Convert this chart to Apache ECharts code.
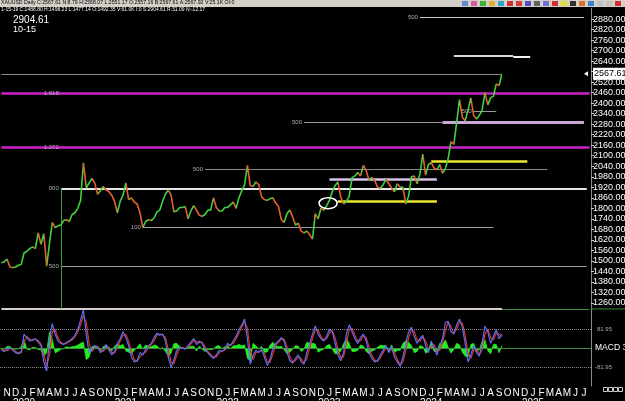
<!DOCTYPE html>
<html><head><meta charset="utf-8">
<script src="https://cdn.jsdelivr.net/npm/echarts@6/dist/echarts.min.js"></script>
<style>html,body{margin:0;padding:0;background:#000;overflow:hidden}#c{width:625px;height:401px}</style>
</head><body><div id="c"></div>
<script>
// ---------- DATA ----------
const firstDate = '2019-10-11';
const lastDate = '2025-07-21';
const monthLetters = ['J','F','M','A','M','J','J','A','S','O','N','D'];
const priceTicks = {min:1200, max:2940, step:60};
// price, one value per 10-day period starting 2019-10-11
const price = [
1490,1495,1510,1465,1462,1465,1475,1480,
1545,1555,1570,1580,1570,1660,1595,1655,1470,1600,1720,1690,1700,1705,1730,1735,1725,1765,1775,1800,1845,2060,1915,1945,1970,1945,1880,1900,1925,1905,1895,1875,1840,1775,1840,1875,
1945,1850,1860,1835,1825,1775,1690,1725,1735,1730,1745,1780,1790,1840,1880,1905,1875,1780,1785,1805,1805,1810,1740,1785,1815,1790,1760,1755,1765,1790,1790,1860,1805,1785,1785,1805,
1805,1820,1835,1800,1860,1900,1935,2045,1930,1925,1950,1935,1865,1850,1845,1855,1860,1830,1810,1735,1720,1770,1790,1750,1705,1715,1670,1660,1670,1650,1625,1770,1740,1800,1790,1815,
1845,1895,1930,1950,1865,1825,1840,1870,1975,1985,2005,1985,2045,2015,1960,1975,1960,1920,1915,1935,1965,1940,1915,1895,1940,1920,1920,1825,1870,1980,1985,1940,1995,2110,1990,2050,
2060,2030,2020,2050,2000,2025,2085,2180,2165,2290,2420,2320,2300,2360,2430,2330,2310,2330,2360,2460,2390,2430,2440,2510,2500,2567.61];
const lastPrice = 2567.61;
const macdLine = [
-10,-15,-5,5,-10,-20,-25,-15,60,45, 30,35,40,25,10,-60,-100,40,105,60, 30,20,15,25,30,40,55,80,120,165,
60,-20,-10,10,5,-20,-10,15,-5,-30, -15,20,40,70,45,10,-40,-60,-55,-20, -30,-5,10,20,45,65,55,60,30,-40,
-85,-50,-10,5,0,-5,10,25,40,15, 30,20,-10,-20,-35,-45,-30,-10,-15,-5, 20,10,30,50,80,100,125,40,-70,-30,
-10,-20,-5,-40,-75,-50,0,20,30,45, 30,-20,-55,-65,-45,-30,-60,-70,-20,20, 60,95,60,40,30,50,80,70,20,-30,
-55,-20,60,100,70,40,20,45,60,30, -20,-45,-60,-55,-30,-10,10,-20,5,-40, -60,-80,-40,20,70,90,50,20,40,55,
10,-20,30,0,-30,10,40,110,115,70, 60,100,125,90,20,-60,-30,10,-20,-35, 20,95,70,20,50,80,40,60];
const signalLine = [
-5,-10,-12,-2,-5,-15,-22,-20,25,50, 38,32,38,32,18,-25,-80,-30,70,80, 45,25,18,20,28,35,48,68,100,140,
110,20,-15,0,8,-8,-15,2,5,-18, -22,2,30,55,58,28,-15,-50,-58,-38, -25,-18,2,15,32,55,60,58,45,-5,
-62,-68,-30,-2,2,-2,2,18,32,28, 22,25,5,-15,-28,-40,-38,-20,-12,-10, 8,15,20,40,65,90,112,85,-15,-50,
-20,-15,-12,-22,-58,-62,-25,10,25,38, 38,5,-38,-60,-55,-38,-45,-65,-45,0, 40,78,78,50,35,40,65,75,45,-5,
-42,-38,20,80,85,55,30,32,52,45, 5,-32,-52,-58,-42,-20,0,-5,-8,-20, -50,-70,-60,-10,45,80,70,35,30,48,
32,-5,5,15,-15,-10,25,75,112,92, 65,80,112,108,55,-20,-45,-10,-5,-28, -8,60,82,45,35,65,60,50];
const macdHist = [
-5,-5,7,7,-5,-5,-3,5,35,-5, -8,3,2,-7,-8,-35,-20,70,35,-20, -15,-5,-3,5,2,5,7,12,20,25,
-50,-40,5,10,-3,-12,5,13,-10,-12, 7,18,10,15,-13,-18,-25,-10,3,18, -5,13,8,5,13,10,-5,2,-15,-35,
-23,18,20,7,-2,-3,8,7,8,-13, 8,-5,-15,-5,-7,-5,8,10,-3,5, 12,-5,10,10,15,10,13,-45,-55,20,
10,-5,7,-18,-17,12,25,10,5,7, -8,-25,-17,-5,10,8,-15,-5,25,20, 20,17,-18,-10,-5,10,15,-5,-25,-25,
-13,18,40,20,-15,-15,-10,13,8,-15, -25,-13,-8,3,12,10,10,-15,13,-20, -10,-10,20,30,25,10,-20,-15,10,7,
-22,-15,25,-15,-15,20,15,35,3,-22, -5,20,13,-18,-35,-40,15,20,-15,-7, 28,35,-12,-25,15,15,-20,10];
const macdBand = 81.95;
const macdTicks = {min:-164, max:164, step:82};
// drawn horizontal levels
const levelValues = [2891, 2670, 2663, 2567.61, 2456, 2292, 2290, 2148, 2067, 2024, 1966, 1913, 1838, 1691, 1468, 2355];
const levelFrom = ['2023-11-21','2024-03-21','2024-10-21','2019-10-11','2019-10-11','2022-10-01','2024-02-11','2019-10-11','2024-01-01','2021-10-11','2023-01-01','2020-05-11','2023-02-01','2021-03-01','2020-05-11','2024-06-01'];
const levelTo   = ['2025-07-01','2024-10-21','2024-12-21','2024-09-11','2025-07-21','2024-02-11','2025-07-01','2025-07-21','2024-12-11','2025-02-21','2024-01-21','2025-07-11','2024-01-21','2024-08-11','2025-07-11','2024-08-21'];
const levelTags = ['500','','','','1.618','500','','1.272','','500','','000','','100','500','500'];
const tagDates  = ['2023-11-21','','','','2020-05-11','2022-10-01','','2020-05-11','','2021-10-11','','2020-05-11','','2021-03-01','2020-05-11','2024-06-01'];
const circleAt = ['2022-12-21', 1835];
const pivotDate = '2020-05-11';
const paneFloor = 1226;
const headerTop = 'XAUUSD Daily C:2567.61 N:8.79 H:2568.07 L:2551.17 O:2557.16 B:2567.61 A:2567.92 V:25.1K OI:0';
const headerSub = '1-15-19 C:1488.80 H:1498.23 L:1477.14 O:1492.35 V:61.0K I:0 S:2904.61 R:31.09 N:-12.17';
const cornerValue = '2904.61';
const cornerDate = '10-15';

// ---------- BUILD ----------
const cats = [];
(function(){
  let y = +firstDate.slice(0,4), m = +firstDate.slice(5,7);
  const days = ['01','11','21'];
  let di = days.indexOf(firstDate.slice(8));
  while (true) {
    const s = y + '-' + String(m).padStart(2,'0') + '-' + days[di];
    cats.push(s);
    if (s === lastDate) break;
    di++; if (di === 3) { di = 0; m++; if (m === 13) { m = 1; y++; } }
  }
})();

const UP = '#3fd23f', DOWN = '#e8602c';
const pieces = [{lte: 0, color: UP}];
for (let i = 1; i < price.length; i++) {
  pieces.push({gt: i - 1, lte: i, color: price[i] >= price[i-1] ? UP : DOWN});
}

const levelStyle = [
  ['#c8c8c8',1],['#d8d8d8',2],['#f2f2f2',2],['#8a8a8a',1],['#cc22cc',2.5],['#9a9a9a',1],['#c9a8d8',3],
  ['#cc22cc',2.5],['#e8e832',2.5],['#8a8a8a',1],['#d8c0e8',2.5],['#e6e6e6',2],['#e8e832',2.5],['#9a9a9a',1],['#a0a0a0',1],['#9a9a9a',1]
];
const levelLines = levelValues.map((v, i) => [
  {coord: [levelFrom[i], v], lineStyle: {color: levelStyle[i][0], width: levelStyle[i][1], type: 'solid'}},
  {coord: [levelTo[i], v]}
]);
levelLines.push([{coord:[cats[0], paneFloor], lineStyle:{color:'#d6cccc', width:2, type:'solid'}}, {coord:[cats[price.length-1], paneFloor]}]);
levelLines.push([{coord:[cats[price.length-1], paneFloor], lineStyle:{color:'#3c8c3c', width:1, type:'solid'}}, {coord:[cats[cats.length-1], paneFloor]}]);
levelLines.push([{coord:[pivotDate, levelValues[11]], lineStyle:{color:'#2fa02f', width:1, type:'solid'}}, {coord:[pivotDate, paneFloor]}]);

const FONT = 'Liberation Sans, Arial, sans-serif';
const option = {
  backgroundColor: '#000',
  animation: false,
  textStyle: {fontFamily: FONT},
  grid: [
    {left: 0, right: 34, top: 8.5, height: 305, outerBoundsMode: 'none', containLabel: false},
    {left: 0, right: 34, top: 310, height: 76, outerBoundsMode: 'none', containLabel: false}
  ],
  xAxis: [
    {type:'category', gridIndex:0, data: cats, show:false},
    {type:'category', gridIndex:1, data: cats,
     axisLine:{show:false}, axisTick:{show:false},
     axisLabel:{color:'#fff', fontSize:10, margin:2, lineHeight:10, fontFamily: FONT,
       interval:(i, v) => v.slice(8) === '01',
       formatter: v => { const mo = +v.slice(5,7); return monthLetters[mo-1] + (mo === 1 ? '\n' + v.slice(0,4) : ''); }}}
  ],
  yAxis: [
    {type:'value', gridIndex:0, position:'right', min: priceTicks.min, max: priceTicks.max, interval: priceTicks.step,
     axisLine:{show:true, lineStyle:{color:'#8a8a8a'}}, axisTick:{show:true, length:3, lineStyle:{color:'#ccc'}},
     splitLine:{show:false},
     axisLabel:{color:'#fff', fontSize:9, margin:2, fontFamily: FONT, showMinLabel:false, showMaxLabel:false, formatter: v => v.toFixed(2)}},
    {type:'value', gridIndex:1, position:'right', min: macdTicks.min, max: macdTicks.max, interval: macdTicks.step,
     axisLine:{show:true, lineStyle:{color:'#8a8a8a'}}, axisTick:{show:false}, axisLabel:{show:false}, splitLine:{show:false}}
  ],
  visualMap: {show:false, type:'piecewise', seriesIndex:0, dimension:0, pieces: pieces},
  series: [
    {type:'line', xAxisIndex:0, yAxisIndex:0, data: price, symbol:'none', lineStyle:{width:1.6}, z:5},
    {type:'line', xAxisIndex:0, yAxisIndex:0, data: [], symbol:'none', silent:true, z:3,
     markLine:{symbol:['none','none'], silent:true, animation:false, label:{show:false}, data: levelLines}},
    {type:'line', xAxisIndex:1, yAxisIndex:1, data: macdHist, symbol:'none',
     lineStyle:{width:0.8, color:'#22ee22'}, itemStyle:{color:'#22ee22'}, areaStyle:{color:'#22ee22', opacity:1}, z:3},
    {type:'line', xAxisIndex:1, yAxisIndex:1, data: signalLine, symbol:'none', lineStyle:{width:1.2, color:'#dd3030'}, z:4},
    {type:'line', xAxisIndex:1, yAxisIndex:1, data: macdLine, symbol:'none', lineStyle:{width:1.2, color:'#5a70f0'}, z:5,
     markLine:{symbol:['none','none'], silent:true, animation:false, data:[
       {yAxis:0, lineStyle:{color:'#3c8c3c', width:1, type:'solid'}, label:{show:true, position:'end', formatter:'MACD 3,', color:'#fff', fontSize:8.5, distance:4, fontFamily: FONT}},
       {yAxis:macdBand, lineStyle:{color:'#8a8a8a', width:1, type:'dotted'}, label:{show:true, position:'end', formatter:'81.95', color:'#aaa', fontSize:6, distance:6}},
       {yAxis:-macdBand, lineStyle:{color:'#8a8a8a', width:1, type:'dotted'}, label:{show:true, position:'end', formatter:'-81.95', color:'#aaa', fontSize:6, distance:4}}
     ]}}
  ]
};
const chart = echarts.init(document.getElementById('c'));
chart.setOption(option);

const px = (d, v) => chart.convertToPixel({xAxisIndex:0, yAxisIndex:0}, [d, v]);
const g = [];
g.push({type:'rect', shape:{x:0, y:0, width:625, height:7}, style:{fill:'#d4d0c8'}, z:100});
g.push({type:'text', x:1, y:0.5, style:{text: headerTop, fill:'#000', fontSize:5.2, fontFamily: FONT}, z:101});
g.push({type:'text', x:1, y:7.5, style:{text: headerSub, fill:'#fff', fontSize:5, fontFamily: FONT}, z:101});
g.push({type:'text', x:13, y:15, style:{text: cornerValue, fill:'#fff', fontSize:10, fontFamily: FONT}, z:101});
g.push({type:'text', x:13, y:25, style:{text: cornerDate, fill:'#fff', fontSize:9, fontFamily: FONT}, z:101});
// toolbar icons
const icoCol = ['#5a8ad8','#d85a9a','#3cb03c','#e0b030','#30a0d0','#d03030','#d83838','#5050c0','#606060','#7070d0','#d03030','#e0e030','#303030','#d87030','#4080d0','#c0c0c0','#c0c0c0','#d03030'];
icoCol.forEach((c, i) => g.push({type:'rect', shape:{x:462 + i*9, y:1, width:6, height:5}, style:{fill:c}, z:101}));
levelTags.forEach((t, i) => {
  if (!t) return;
  const p = px(tagDates[i], levelValues[i]);
  g.push({type:'text', x:p[0]-2, y:p[1], style:{text:t, fill:'#b0b0b0', fontSize:6, align:'right', verticalAlign:'middle', fontFamily: FONT}, z:20});
});
const c = px(circleAt[0], circleAt[1]);
g.push({type:'ellipse', shape:{cx:c[0]+1.5, cy:c[1]+1, rx:9, ry:5.5}, style:{fill:'none', stroke:'#fff', lineWidth:1.6}, z:20});
const lp = px(cats[price.length-1], lastPrice);
g.push({type:'rect', shape:{x:593, y:lp[1]-6, width:34, height:12}, style:{fill:'#fff'}, z:110});
g.push({type:'text', x:594, y:lp[1], style:{text: lastPrice.toFixed(2), fill:'#000', fontSize:9, verticalAlign:'middle', fontFamily: FONT}, z:111});
g.push({type:'polygon', shape:{points:[[584, lp[1]],[588, lp[1]-2.5],[588, lp[1]+2.5]]}, style:{fill:'#fff'}, z:111});
const fl = px(cats[0], paneFloor);
g.push({type:'line', shape:{x1:591, y1:fl[1], x2:625, y2:fl[1]}, style:{stroke:'#3c8c3c', lineWidth:1}, z:20});
for (let i = 0; i < 4; i++) g.push({type:'rect', shape:{x:603.5 + i*5, y:387.5, width:4, height:4}, style:{fill:'none', stroke:'#ccc', lineWidth:1}, z:20});
chart.setOption({graphic: g});
</script>
</body></html>
